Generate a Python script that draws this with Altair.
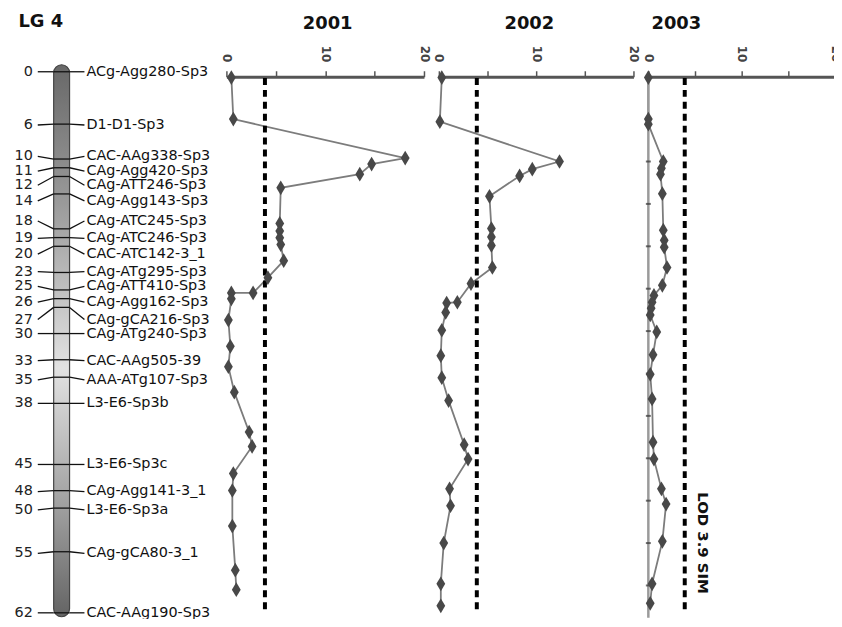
import altair as alt
import pandas as pd

# ---------------- data ----------------
marker_names = [
    "ACg-Agg280-Sp3", "D1-D1-Sp3", "CAC-AAg338-Sp3", "CAg-Agg420-Sp3",
    "CAg-ATT246-Sp3", "CAg-Agg143-Sp3", "CAg-ATC245-Sp3", "CAg-ATC246-Sp3",
    "CAC-ATC142-3_1", "CAg-ATg295-Sp3", "CAg-ATT410-Sp3", "CAg-Agg162-Sp3",
    "CAg-gCA216-Sp3", "CAg-ATg240-Sp3", "CAC-AAg505-39", "AAA-ATg107-Sp3",
    "L3-E6-Sp3b", "L3-E6-Sp3c", "CAg-Agg141-3_1", "L3-E6-Sp3a",
    "CAg-gCA80-3_1", "CAC-AAg190-Sp3",
]
marker_cm = [0, 6, 10, 11, 12, 14, 18, 19, 20, 23, 25, 26, 27, 30, 33, 35, 38, 45, 48, 50, 55, 62]
# where each label sits along the map (labels are spread apart where markers crowd)
label_cm = [0, 6.1, 9.7, 11.4, 13.0, 14.8, 17.1, 19.1, 20.9, 22.9, 24.6, 26.4,
            28.4, 30.0, 33.1, 35.3, 38.0, 45.0, 48.1, 50.2, 55.2, 62.0]

years = ["2001", "2002", "2003"]

pos_2001 = [0.1, 5.0, 9.6, 10.3, 11.5, 13.1, 17.3, 18.2, 19.0, 19.8, 21.7, 23.7,
            25.5, 25.5, 26.2, 28.7, 31.8, 34.2, 37.2, 41.9, 43.6, 46.8, 48.8,
            53.0, 58.2, 60.5]
lod_2001 = [0.5, 0.7, 18.1, 14.7, 13.5, 5.5, 5.4, 5.4, 5.4, 5.5, 5.8, 4.2,
            2.7, 0.5, 0.5, 0.2, 0.4, 0.2, 0.8, 2.3, 2.6, 0.7, 0.6,
            0.6, 0.9, 1.0]

pos_2002 = [0.1, 5.3, 10.0, 10.9, 11.7, 14.1, 17.9, 18.9, 19.9, 22.5, 24.4,
            26.6, 26.7, 27.8, 29.9, 32.9, 35.5, 38.2, 43.4, 45.1, 48.6, 50.6,
            55.0, 59.8, 62.4]
lod_2002 = [0.3, 0.1, 12.4, 9.6, 8.3, 5.2, 5.4, 5.4, 5.4, 5.5, 3.3,
            1.9, 0.8, 0.7, 0.3, 0.2, 0.3, 1.0, 2.6, 3.0, 1.1, 1.2,
            0.5, 0.2, 0.2]

pos_2003 = [0.1, 5.0, 5.6, 10.0, 10.8, 11.5, 13.8, 18.1, 19.3, 20.1, 22.5,
            24.6, 25.8, 26.6, 27.3, 28.1, 30.1, 32.8, 35.1, 38.0, 43.1, 45.1,
            48.6, 50.4, 54.8, 59.8, 62.1]
lod_2003 = [0.0, 0.0, 0.0, 1.6, 1.4, 1.3, 1.5, 1.6, 1.7, 1.7, 2.0,
            1.5, 0.6, 0.4, 0.3, 0.2, 0.9, 0.5, 0.2, 0.4, 0.5, 0.6,
            1.4, 1.9, 1.5, 0.4, 0.2]

lod_threshold = 3.9
lod_ticks = [0, 5, 10, 15, 20]
cm_ticks_2003 = [5, 10, 15, 20, 25, 30, 35, 40, 45, 50, 55, 60]
title_x = [10.25, 9.3, 3.0]  # title centre on each panel's LOD axis

# ---------------- layout / style ----------------
FONT = "DejaVu Sans"
panel_ranges = [[220, 419], [434, 630], [645, 833]]
ylod = alt.Scale(domain=[0, 64], range=[0, 546.6], nice=False, zero=False)
ychr = alt.Scale(domain=[0, 62], range=[-5, 540], nice=False, zero=False)
DIAMOND = "M0,-1L0.6,0L0,1L-0.6,0Z"

# ---------------- chromosome panel ----------------
chr_df = pd.DataFrame({"name": marker_names, "cm": marker_cm, "lab": label_cm,
                       "num": [str(v) for v in marker_cm]})
bar_df = pd.DataFrame({"top": [-0.8], "bottom": [62.45]})

grad = alt.LinearGradient(
    gradient="linear",
    stops=[alt.GradientStop(color="#686868", offset=0),
           alt.GradientStop(color="#9a9a9a", offset=0.25),
           alt.GradientStop(color="#e2e2e2", offset=0.55),
           alt.GradientStop(color="#9a9a9a", offset=0.82),
           alt.GradientStop(color="#646464", offset=1)],
    x1=0, x2=0, y1=0, y2=1)

chrom = alt.Chart(bar_df).mark_rect(fill=grad, stroke="#444", strokeWidth=1.2,
                                    cornerRadius=8).encode(
    x=alt.value(46), x2=alt.value(62),
    y=alt.Y("top:Q", scale=ychr, axis=None), y2="bottom:Q")

left_conn = alt.Chart(chr_df).mark_rule(color="#111", strokeWidth=1.3).encode(
    x=alt.value(30), x2=alt.value(46),
    y=alt.Y("lab:Q", scale=ychr, axis=None), y2="cm:Q")
across = alt.Chart(chr_df).mark_rule(color="#111", strokeWidth=1.3).encode(
    x=alt.value(46), x2=alt.value(62),
    y=alt.Y("cm:Q", scale=ychr, axis=None), y2="cm:Q")
right_conn = alt.Chart(chr_df).mark_rule(color="#111", strokeWidth=1.3).encode(
    x=alt.value(62), x2=alt.value(77),
    y=alt.Y("cm:Q", scale=ychr, axis=None), y2="lab:Q")

nums = alt.Chart(chr_df).mark_text(align="right", baseline="middle", font=FONT,
                                   fontSize=14.5, color="#222").encode(
    x=alt.value(25), y=alt.Y("lab:Q", scale=ychr, axis=None), text="num:N")
names = alt.Chart(chr_df).mark_text(align="left", baseline="middle", font=FONT,
                                    fontSize=14.5, color="#111").encode(
    x=alt.value(79), y=alt.Y("lab:Q", scale=ychr, axis=None), text="name:N")

lg_title = alt.Chart(pd.DataFrame({"t": ["LG 4"]})).mark_text(
    font=FONT, fontSize=18, fontWeight="bold", color="#111",
    align="center", baseline="middle").encode(
    x=alt.value(33), y=alt.value(-55), text="t:N")

layers = [chrom, left_conn, across, right_conn, nums, names, lg_title]

# ---------------- LOD panels ----------------
profiles = [(pos_2001, lod_2001), (pos_2002, lod_2002), (pos_2003, lod_2003)]
for i, (yr, (pos, lod)) in enumerate(zip(years, profiles)):
    xs = alt.Scale(domain=[0, 20], range=panel_ranges[i], nice=False, zero=False)
    df = pd.DataFrame({"pos": pos, "lod": lod, "idx": list(range(len(pos)))})
    ax = alt.Axis(orient="top", values=lod_ticks,
                  labelExpr="datum.value % 10 == 0 ? datum.label : ''",
                  labelAngle=90, labelAlign="right", labelBaseline="middle",
                  labelFont=FONT, labelFontSize=12, labelFontWeight="bold",
                  labelColor="#444", labelPadding=9, labelFlush=False,
                  labelOverlap=False, domainColor="#555", domainWidth=3,
                  tickColor="#555", tickWidth=1.5, tickSize=6, grid=False,
                  title=None)
    thr_df = pd.DataFrame({"thr": [lod_threshold], "y0": [0.15], "y1": [63.2]})
    thr = alt.Chart(thr_df).mark_rule(color="black", strokeWidth=4,
                                      strokeDash=[7, 5]).encode(
        x=alt.X("thr:Q", scale=xs, axis=None),
        y=alt.Y("y0:Q", scale=ylod, axis=None), y2="y1:Q")
    line = alt.Chart(df).mark_line(color="#7c7c7c", strokeWidth=1.8).encode(
        x=alt.X("lod:Q", scale=xs, axis=ax),
        y=alt.Y("pos:Q", scale=ylod, axis=None),
        order="idx:Q")
    pts = alt.Chart(df).mark_point(shape=DIAMOND, filled=True, fill="#484848",
                                   opacity=1, size=220, strokeWidth=0).encode(
        x=alt.X("lod:Q", scale=xs, axis=None),
        y=alt.Y("pos:Q", scale=ylod, axis=None))
    ttl = alt.Chart(pd.DataFrame({"t": [yr], "x": [title_x[i]]})).mark_text(
        font=FONT, fontSize=18, fontWeight="bold", color="#111",
        align="center", baseline="middle").encode(
        x=alt.X("x:Q", scale=xs, axis=None), y=alt.value(-53), text="t:N")
    panel_layers = []
    if i == 2:
        zero_df = pd.DataFrame({"x": [0.0], "y0": [0.0], "y1": [63.8]})
        zero = alt.Chart(zero_df).mark_rule(color="#9a9a9a", strokeWidth=2.5).encode(
            x=alt.X("x:Q", scale=xs, axis=None),
            y=alt.Y("y0:Q", scale=ylod, axis=None), y2="y1:Q")
        tk_df = pd.DataFrame({"y": cm_ticks_2003, "x": [0.0] * len(cm_ticks_2003)})
        tks = alt.Chart(tk_df).mark_tick(orient="horizontal", color="#333",
                                         thickness=2, size=5).encode(
            x=alt.X("x:Q", scale=xs, axis=None),
            y=alt.Y("y:Q", scale=ylod, axis=None))
        sim = alt.Chart(pd.DataFrame({"t": ["LOD 3.9 SIM"], "x": [5.9], "y": [55.0]})).mark_text(
            font=FONT, fontSize=15, fontWeight="bold", color="#111", angle=90,
            align="center", baseline="middle").encode(
            x=alt.X("x:Q", scale=xs, axis=None),
            y=alt.Y("y:Q", scale=ylod, axis=None), text="t:N")
        panel_layers += [zero, tks, sim]
    layers += [line] + panel_layers + [thr, pts, ttl]

chart = alt.layer(*layers).resolve_scale(
    x="independent", y="independent"
).properties(
    width=832, height=544,
    padding={"top": 67, "left": 0, "right": 0, "bottom": 0},
    autosize=alt.AutoSizeParams(type="none"),
).configure(
    background="white", font=FONT
).configure_view(stroke=None)

chart.save("out.html", embed_options={"renderer": "svg", "actions": False})
